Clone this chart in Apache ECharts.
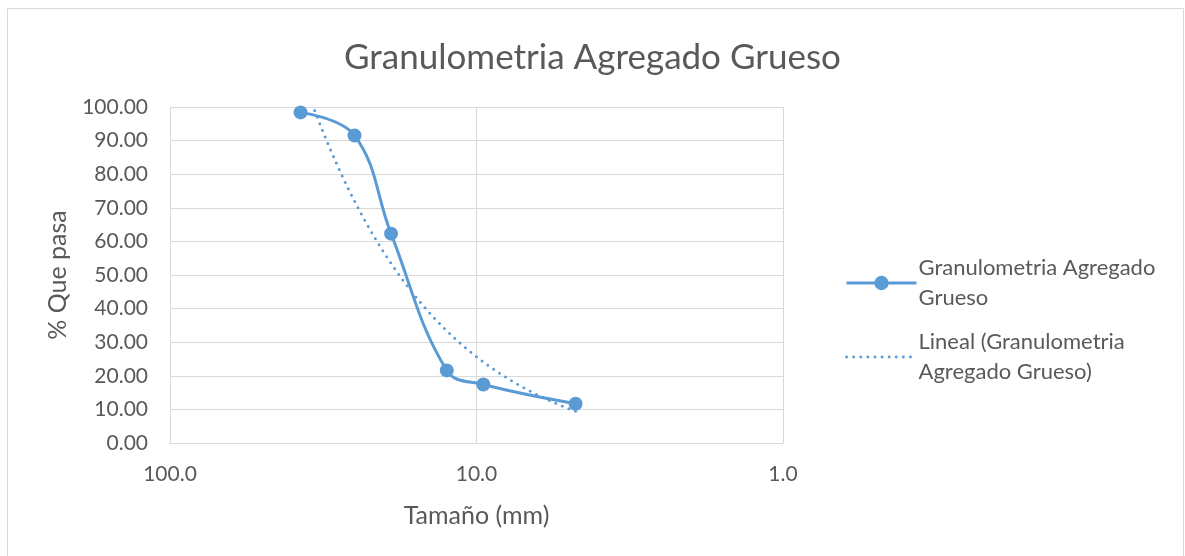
<!DOCTYPE html>
<html>
<head>
<meta charset="utf-8">
<script src="https://cdn.jsdelivr.net/npm/echarts@6/dist/echarts.min.js"></script>
<style>
  html, body { margin: 0; padding: 0; background: #ffffff; }
  #chart { width: 1185px; height: 556px; }
</style>
</head>
<body>
<div id="chart"></div>
<script>
// Sieve sizes (mm) and cumulative percent passing
const tamanos = [37.5, 25, 19, 12.5, 9.5, 4.75];
const pasa = [98.4, 91.5, 62.3, 21.6, 17.4, 11.7];

const serieNombre = 'Granulometria Agregado Grueso';
const tendenciaNombre = 'Lineal (Granulometria Agregado Grueso)';

// Least-squares linear trend of % passing against size
function ajusteLineal(xs, ys) {
  const n = xs.length;
  const mx = xs.reduce((a, b) => a + b, 0) / n;
  const my = ys.reduce((a, b) => a + b, 0) / n;
  let sxy = 0, sxx = 0;
  for (let i = 0; i < n; i++) {
    sxy += (xs[i] - mx) * (ys[i] - my);
    sxx += (xs[i] - mx) * (xs[i] - mx);
  }
  const b = sxy / sxx;
  return { a: my - b * mx, b: b };
}
const fit = ajusteLineal(tamanos, pasa);
const xMin = Math.min.apply(null, tamanos), xMax = Math.max.apply(null, tamanos);
const tendencia = [];
const pasos = 80;
for (let i = 0; i <= pasos; i++) {
  const x = Math.exp(Math.log(xMin) + (Math.log(xMax) - Math.log(xMin)) * i / pasos);
  tendencia.push([x, fit.a + fit.b * x]);
}

const FONT = 'Lato';
const TXT = '#595959';
const BLUE = '#5B9BD5';
const GRID = '#d9d9d9';
const DOTS = { color: BLUE, width: 2.8, type: [0.1, 7], cap: 'round' };

const chart = echarts.init(document.getElementById('chart'), null, { renderer: 'canvas' });
chart.setOption({
  animation: false,
  backgroundColor: '#ffffff',
  textStyle: { fontFamily: FONT, color: TXT },
  graphic: [{
    type: 'rect',
    shape: { x: 7.5, y: 8.5, width: 1176, height: 560 },
    style: { fill: 'none', stroke: GRID, lineWidth: 1 },
    silent: true
  }],
  title: {
    text: serieNombre,
    left: 'center',
    top: 35,
    textStyle: { fontFamily: FONT, fontSize: 35, fontWeight: 'normal', color: TXT }
  },
  legend: {
    orient: 'vertical',
    left: 840,
    top: 248,
    itemWidth: 70,
    itemHeight: 18,
    itemGap: 14,
    data: [
      { name: serieNombre, lineStyle: { width: 3 } },
      { name: tendenciaNombre, itemStyle: { opacity: 0 }, lineStyle: DOTS }
    ],
    formatter: function (name) {
      return name === serieNombre
        ? 'Granulometria Agregado\nGrueso'
        : 'Lineal (Granulometria\nAgregado Grueso)';
    },
    textStyle: { fontFamily: FONT, fontSize: 22, color: TXT, lineHeight: 30, padding: [0, 0, 0, -3] }
  },
  grid: { left: 170, right: 402, top: 107, bottom: 113, containLabel: false },
  xAxis: {
    type: 'log',
    logBase: 10,
    min: 1,
    max: 100,
    inverse: true,
    name: 'Tamaño (mm)',
    nameLocation: 'middle',
    nameGap: 60,
    nameTextStyle: { fontFamily: FONT, fontSize: 25, color: TXT },
    axisLine: { show: true, lineStyle: { color: GRID, width: 1 } },
    axisTick: { show: false },
    axisLabel: {
      fontFamily: FONT, fontSize: 21, color: TXT, margin: 21,
      formatter: function (v) { return Number(v).toFixed(1); }
    },
    splitLine: { show: true, lineStyle: { color: GRID, width: 1 } },
    minorSplitLine: { show: false }
  },
  yAxis: {
    type: 'value',
    min: 0,
    max: 100,
    interval: 10,
    name: '% Que pasa',
    nameLocation: 'middle',
    nameGap: 100,
    nameRotate: 90,
    nameTextStyle: { fontFamily: FONT, fontSize: 25, color: TXT },
    axisLine: { show: true, lineStyle: { color: GRID, width: 1 } },
    axisTick: { show: false },
    axisLabel: {
      fontFamily: FONT, fontSize: 21, color: TXT, margin: 22,
      formatter: function (v) { return Number(v).toFixed(2); }
    },
    splitLine: { show: true, lineStyle: { color: GRID, width: 1 } }
  },
  series: [
    {
      name: serieNombre,
      type: 'line',
      data: tamanos.map((t, i) => [t, pasa[i]]),
      smooth: 0.4,
      symbol: 'circle',
      symbolSize: 14,
      itemStyle: { color: BLUE },
      lineStyle: { color: BLUE, width: 3 },
      z: 3
    },
    {
      name: tendenciaNombre,
      type: 'line',
      data: tendencia,
      showSymbol: false,
      symbol: 'none',
      clip: true,
      itemStyle: { color: BLUE },
      lineStyle: DOTS,
      z: 2
    }
  ]
});
</script>
</body>
</html>
